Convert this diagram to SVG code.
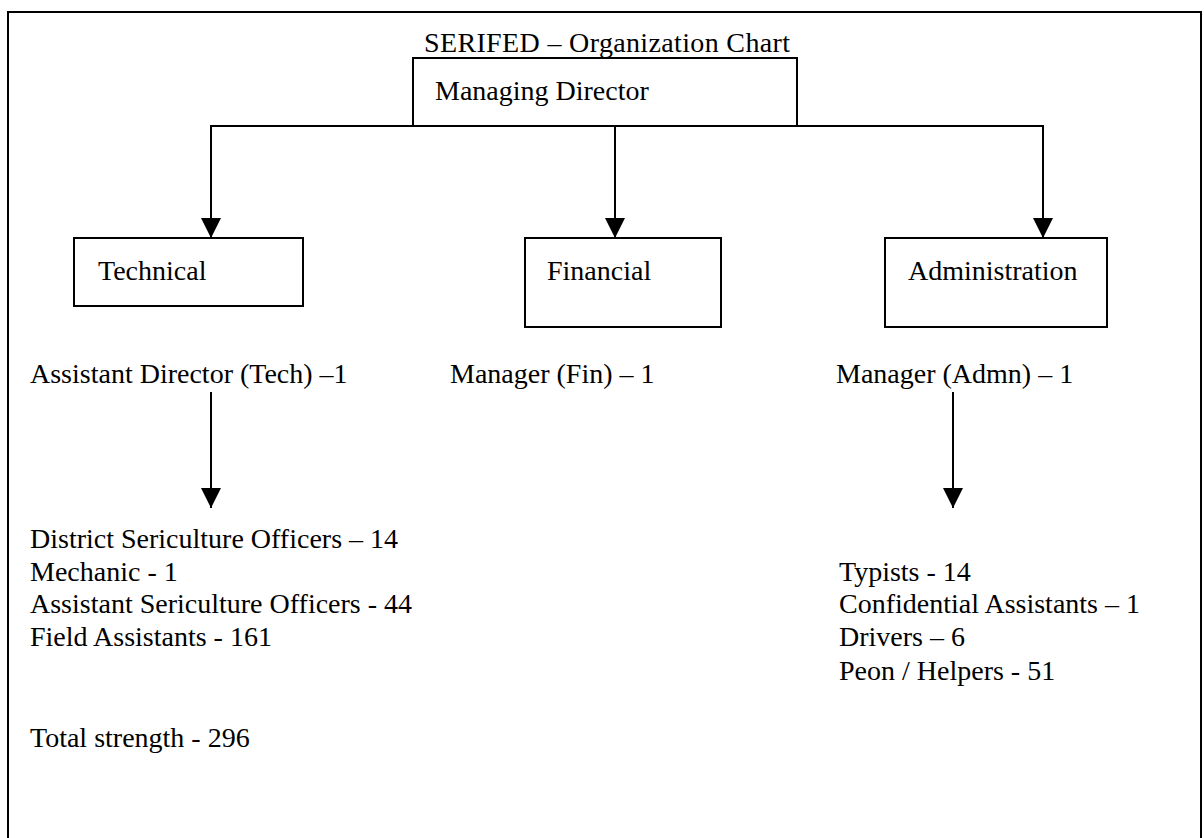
<svg xmlns="http://www.w3.org/2000/svg" width="1204" height="838" viewBox="0 0 1204 838">
<style>
text{font-family:"Liberation Serif","Times New Roman",serif;font-size:28px;fill:#000}
.box{fill:#fff;stroke:#000;stroke-width:2}
.ln{fill:none;stroke:#000;stroke-width:2}
</style>
<defs>
<marker id="ah" markerUnits="userSpaceOnUse" markerWidth="20" markerHeight="20" viewBox="0 0 20 20" refX="20" refY="10" orient="auto">
<path d="M0,0 L20,10 L0,20 z" fill="#000"/>
</marker>
</defs>
<rect width="1204" height="838" fill="#fff"/>
<path class="ln" d="M8,840 V12 H1201 V840"/>
<text x="424" y="52" textLength="366" lengthAdjust="spacing">SERIFED – Organization Chart</text>
<g id="connectors">
<path class="ln" d="M413,126 H211 V238" marker-end="url(#ah)"/>
<path class="ln" d="M615,126 V238" marker-end="url(#ah)"/>
<path class="ln" d="M797,126 H1043 V238" marker-end="url(#ah)"/>
<path class="ln" d="M211,392 V508" marker-end="url(#ah)"/>
<path class="ln" d="M953,392 V508" marker-end="url(#ah)"/>
</g>
<g id="md">
<rect class="box" x="413" y="58" width="384" height="68"/>
<text x="435" y="100">Managing Director</text>
</g>
<g id="technical">
<rect class="box" x="74" y="238" width="229" height="68"/>
<text x="98" y="280">Technical</text>
</g>
<g id="financial">
<rect class="box" x="525" y="238" width="196" height="89"/>
<text x="547" y="280">Financial</text>
</g>
<g id="administration">
<rect class="box" x="885" y="238" width="222" height="89"/>
<text x="908" y="280">Administration</text>
</g>
<g id="tech-head"><text x="30" y="383">Assistant Director (Tech) –1</text></g>
<g id="fin-head"><text x="450" y="383">Manager (Fin) – 1</text></g>
<g id="admin-head"><text x="836" y="383">Manager (Admn) – 1</text></g>
<g id="tech-staff">
<text x="30" y="548">District Sericulture Officers – 14</text>
<text x="30" y="581">Mechanic - 1</text>
<text x="30" y="613">Assistant Sericulture Officers - 44</text>
<text x="30" y="646">Field Assistants - 161</text>
<text x="30" y="747">Total strength - 296</text>
</g>
<g id="admin-staff">
<text x="839" y="581">Typists - 14</text>
<text x="839" y="613">Confidential Assistants – 1</text>
<text x="839" y="646">Drivers – 6</text>
<text x="839" y="680">Peon / Helpers - 51</text>
</g>
</svg>
